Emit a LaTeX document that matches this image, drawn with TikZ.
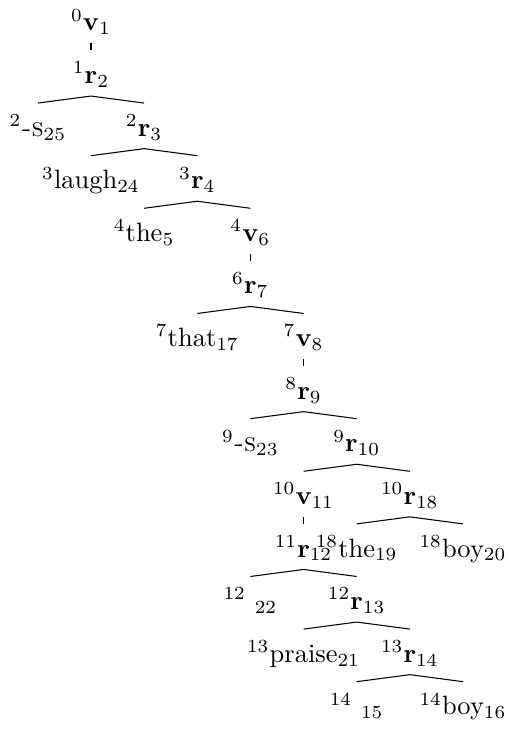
\documentclass[tikz,border=0pt]{standalone}
\begin{document}
\begin{tikzpicture}[x=0.3774pt,y=-0.3774pt,
  lbl/.style={anchor=base,inner sep=0pt,text height=12.3pt,text depth=4.5pt},
  edge/.style={line width=0.4pt}]
\useasboundingbox (0,0) rectangle (506,729);
% nodes
\node[lbl] (v1) at (91,31) {${}^{0}\mathbf{v}_{1}$};
\node[lbl] (r2) at (91,83.6) {${}^{1}\mathbf{r}_{2}$};
\node[lbl] (s25) at (37.9,136.2) {${}^{2}$\textsc{-s}${}_{25}$};
\node[lbl] (r3) at (144.1,136.2) {${}^{2}\mathbf{r}_{3}$};
\node[lbl] (laugh) at (91,188.8) {${}^{3}$laugh${}_{24}$};
\node[lbl] (r4) at (197.3,188.8) {${}^{3}\mathbf{r}_{4}$};
\node[lbl] (the5) at (144.1,241.4) {${}^{4}$the${}_{5}$};
\node[lbl] (v6) at (250.4,241.4) {${}^{4}\mathbf{v}_{6}$};
\node[lbl] (r7) at (250.4,294) {${}^{6}\mathbf{r}_{7}$};
\node[lbl] (that) at (197.3,346.6) {${}^{7}$that${}_{17}$};
\node[lbl] (v8) at (303.6,346.6) {${}^{7}\mathbf{v}_{8}$};
\node[lbl] (r9) at (303.6,399.2) {${}^{8}\mathbf{r}_{9}$};
\node[lbl] (s23) at (250.4,451.8) {${}^{9}$\textsc{-s}${}_{23}$};
\node[lbl] (r10) at (356.7,451.8) {${}^{9}\mathbf{r}_{10}$};
\node[lbl] (v11) at (303.6,504.4) {${}^{10}\mathbf{v}_{11}$};
\node[lbl] (r18) at (409.8,504.4) {${}^{10}\mathbf{r}_{18}$};
\node[lbl] (r12) at (303.6,557) {${}^{11}\mathbf{r}_{12}$};
\node[lbl] (the19) at (356.7,557) {${}^{18}$the${}_{19}$};
\node[lbl] (boy20) at (463,557) {${}^{18}$boy${}_{20}$};
\node[lbl] (e22) at (250.4,609.6) {${}^{12}$\hspace{3.3pt}${}_{22}$};
\node[lbl] (r13) at (356.7,609.6) {${}^{12}\mathbf{r}_{13}$};
\node[lbl] (praise) at (303.6,662.2) {${}^{13}$praise${}_{21}$};
\node[lbl] (r14) at (409.8,662.2) {${}^{13}\mathbf{r}_{14}$};
\node[lbl] (e15) at (356.7,714.8) {${}^{14}$\hspace{3.3pt}${}_{15}$};
\node[lbl] (boy16) at (463,714.8) {${}^{14}$boy${}_{16}$};
% edges
\draw[edge] (v1.south) -- (r2.north);
\draw[edge] (s25.north) -- (r2.south) -- (r3.north);
\draw[edge] (laugh.north) -- (r3.south) -- (r4.north);
\draw[edge] (the5.north) -- (r4.south) -- (v6.north);
\draw[edge] (v6.south) -- (r7.north);
\draw[edge] (that.north) -- (r7.south) -- (v8.north);
\draw[edge] (v8.south) -- (r9.north);
\draw[edge] (s23.north) -- (r9.south) -- (r10.north);
\draw[edge] (v11.north) -- (r10.south) -- (r18.north);
\draw[edge] (v11.south) -- (r12.north);
\draw[edge] (the19.north) -- (r18.south) -- (boy20.north);
\draw[edge] (e22.north) -- (r12.south) -- (r13.north);
\draw[edge] (praise.north) -- (r13.south) -- (r14.north);
\draw[edge] (e15.north) -- (r14.south) -- (boy16.north);
\end{tikzpicture}
\end{document}
